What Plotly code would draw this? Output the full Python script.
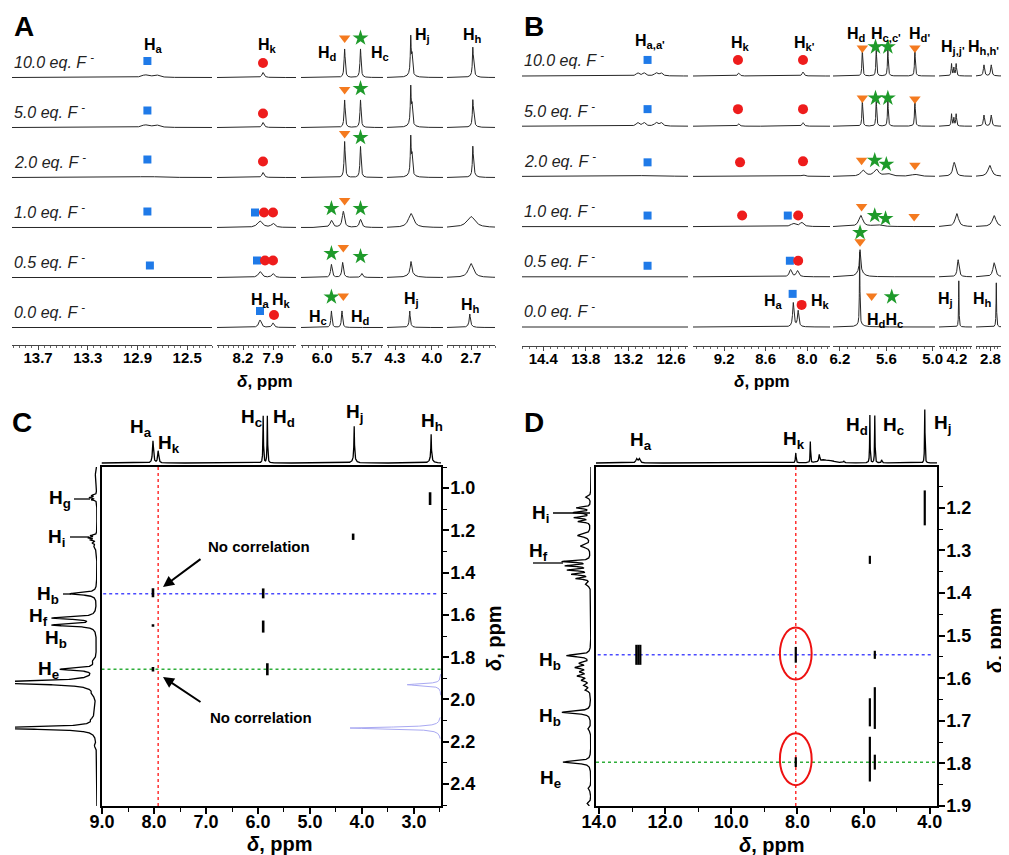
import numpy as np
import plotly.graph_objects as go

# ======================= DATA =======================
ROW_LABELS = ["0.0 eq. F", "0.5 eq. F", "1.0 eq. F", "2.0 eq. F", "5.0 eq. F", "10.0 eq. F"]

# ---- Panel A: ppm windows of the broken x axis and their tick labels
A_SEG_RANGES = [(13.91, 12.30), (8.46, 7.67), (6.16, 5.54), (4.365, 3.91), (2.90, 2.50)]
A_SEG_TICKS = [[13.7, 13.3, 12.9, 12.5], [8.2, 7.9], [6.0, 5.7], [4.3, 4.0], [2.7]]
# peaks: (shift / ppm, height in row units, half width / ppm)
A_PEAKS_0 = [(8.03, 0.15, 0.015), (7.90, 0.09, 0.012), (5.93, 0.33, 0.005), (5.85, 0.33, 0.005),
             (4.18, 0.26, 0.004), (4.18, 0.07, 0.012), (2.71, 0.20, 0.005), (2.71, 0.07, 0.015)]
A_PEAKS_05 = [(8.03, 0.12, 0.02), (7.90, 0.08, 0.015), (5.93, 0.26, 0.007), (5.845, 0.30, 0.007),
              (5.70, 0.08, 0.008), (4.17, 0.24, 0.007), (4.17, 0.08, 0.03), (2.70, 0.28, 0.025)]
A_PEAKS_1 = [(12.82, 0.015, 0.15), (8.03, 0.13, 0.03), (7.90, 0.08, 0.02), (5.93, 0.14, 0.012),
             (5.84, 0.32, 0.01), (5.71, 0.16, 0.01), (4.17, 0.28, 0.025), (2.70, 0.22, 0.04)]
A_PEAKS_2 = [(12.82, 0.02, 0.1), (8.00, 0.10, 0.012), (5.83, 0.72, 0.005), (5.71, 0.62, 0.005),
             (4.172, 0.72, 0.004), (4.162, 0.35, 0.004), (4.17, 0.08, 0.025),
             (2.685, 0.52, 0.004), (2.678, 0.2, 0.004), (2.68, 0.06, 0.02)]
A_PEAKS_5 = [(12.84, 0.05, 0.03), (12.75, 0.05, 0.03), (8.00, 0.10, 0.012), (5.83, 0.55, 0.005),
             (5.71, 0.55, 0.005), (4.172, 0.72, 0.004), (4.162, 0.35, 0.004), (4.17, 0.08, 0.025),
             (2.685, 0.45, 0.004), (2.678, 0.2, 0.004), (2.68, 0.06, 0.02)]
A_PEAKS_10 = [(12.84, 0.05, 0.03), (12.75, 0.05, 0.03), (8.00, 0.10, 0.012), (5.83, 0.57, 0.005),
              (5.71, 0.57, 0.005), (4.172, 0.72, 0.004), (4.162, 0.35, 0.004), (4.17, 0.08, 0.025),
              (2.685, 0.50, 0.004), (2.678, 0.2, 0.004), (2.68, 0.06, 0.02)]
# markers: (shift / ppm, row index, height above that row's baseline)
A_SQUARES = [(12.82, 5, 0.33), (12.82, 4, 0.34), (12.82, 3, 0.36), (12.82, 2, 0.32), (8.08, 2, 0.30),
             (12.80, 1, 0.24), (8.06, 1, 0.34), (8.03, 0, 0.33)]
A_CIRCLES = [(8.00, 5, 0.29), (8.00, 4, 0.28), (8.00, 3, 0.32), (7.99, 2, 0.30), (7.90, 2, 0.30),
             (7.98, 1, 0.34), (7.90, 1, 0.34), (7.89, 0, 0.25)]
A_TRIANGLES = [(5.83, 5, 0.79), (5.83, 4, 0.76), (5.83, 3, 0.88), (5.83, 2, 0.54), (5.84, 1, 0.60),
               (5.84, 0, 0.63)]
A_STARS = [(5.71, 5, 0.79), (5.71, 4, 0.78), (5.71, 3, 0.80), (5.93, 2, 0.38), (5.71, 2, 0.38),
           (5.93, 1, 0.48), (5.71, 1, 0.42), (5.93, 0, 0.61)]

# ---- Panel B
B_SEG_RANGES = [(14.70, 12.36), (9.65, 7.67), (6.29, 4.97), (4.47, 3.97), (3.00, 2.60)]
B_SEG_TICKS = [[14.4, 13.8, 13.2, 12.6], [9.2, 8.6, 8.0], [6.2, 5.6, 5.0], [4.2], [2.8]]
B_PEAKS_0 = [(8.20, 0.48, 0.012), (8.13, 0.32, 0.012), (5.945, 1.45, 0.004), (5.94, 0.05, 0.05),
             (4.17, 0.92, 0.004), (2.72, 0.88, 0.004)]
B_PEAKS_05 = [(8.24, 0.14, 0.02), (8.14, 0.12, 0.02), (5.94, 0.40, 0.008), (5.94, 0.14, 0.04),
              (4.18, 0.34, 0.015), (2.75, 0.28, 0.02)]
B_PEAKS_1 = [(8.20, 0.06, 0.04), (8.08, 0.08, 0.03), (5.93, 0.22, 0.03), (5.72, 0.04, 0.06),
             (4.20, 0.26, 0.03), (2.75, 0.22, 0.03)]
B_PEAKS_2 = [(12.90, 0.02, 0.2), (8.99, 0.015, 0.05), (8.06, 0.03, 0.03), (5.90, 0.12, 0.035),
             (5.73, 0.14, 0.035), (5.58, 0.05, 0.05), (5.23, 0.04, 0.05), (4.24, 0.28, 0.025),
             (2.81, 0.22, 0.03)]
B_PEAKS_5 = [(13.07, 0.07, 0.025), (12.98, 0.07, 0.025), (12.81, 0.07, 0.025), (12.74, 0.07, 0.025),
             (8.99, 0.05, 0.015), (8.06, 0.07, 0.015), (5.91, 0.54, 0.006), (5.73, 0.54, 0.006),
             (5.58, 0.54, 0.006), (5.23, 0.54, 0.006), (4.28, 0.24, 0.007), (4.245, 0.16, 0.007),
             (4.21, 0.24, 0.007), (2.89, 0.22, 0.01), (2.79, 0.22, 0.01)]
B_PEAKS_10 = [(13.07, 0.06, 0.025), (12.98, 0.06, 0.025), (12.81, 0.06, 0.025), (12.74, 0.06, 0.025),
              (8.99, 0.06, 0.015), (8.06, 0.08, 0.015), (5.91, 0.54, 0.006), (5.73, 0.54, 0.006),
              (5.58, 0.54, 0.006), (5.23, 0.54, 0.006), (4.28, 0.24, 0.007), (4.245, 0.16, 0.007),
              (4.21, 0.24, 0.007), (2.89, 0.22, 0.01), (2.79, 0.22, 0.01)]
B_SQUARES = [(12.93, 5, 0.32), (12.93, 4, 0.34), (12.93, 3, 0.28), (12.93, 2, 0.22), (8.28, 2, 0.22),
             (12.93, 1, 0.22), (8.25, 1, 0.32), (8.21, 0, 0.66)]
B_CIRCLES = [(9.00, 5, 0.32), (8.06, 5, 0.32), (9.00, 4, 0.34), (8.06, 4, 0.34), (8.97, 3, 0.28),
             (8.06, 3, 0.30), (8.94, 2, 0.22), (8.13, 2, 0.22), (8.13, 1, 0.32), (8.08, 0, 0.44)]
B_TRIANGLES = [(5.91, 5, 0.56), (5.23, 5, 0.56), (5.91, 4, 0.56), (5.23, 4, 0.54), (5.92, 3, 0.32),
               (5.23, 3, 0.22), (5.92, 2, 0.40), (5.24, 2, 0.20), (5.94, 1, 0.70), (5.79, 0, 0.62)]
B_STARS = [(5.74, 5, 0.58), (5.58, 5, 0.58), (5.74, 4, 0.56), (5.58, 4, 0.56), (5.75, 3, 0.32),
           (5.60, 3, 0.24), (5.75, 2, 0.22), (5.61, 2, 0.16), (5.94, 1, 0.88), (5.53, 0, 0.60)]

# ---- Panel C (2D, projections)
C_X_RANGE = (9.01, 2.48)
C_Y_RANGE = (2.504, 0.90)
C_XTICKS = [9.0, 8.0, 7.0, 6.0, 5.0, 4.0, 3.0]
C_YTICKS = [1.0, 1.2, 1.4, 1.6, 1.8, 2.0, 2.2, 2.4]
C_TOP_PEAKS = [(8.02, 22, 0.012), (7.92, 12, 0.012), (5.90, 47, 0.006), (5.82, 47, 0.006),
               (4.15, 32, 0.006), (4.15, 5, 0.03), (2.67, 24, 0.006), (2.67, 5, 0.03)]
C_LEFT_PEAKS = [(0.95, 2, 0.03), (1.035, 5, 0.003), (1.045, 7, 0.003), (1.055, 5, 0.003),
                (1.225, 6, 0.003), (1.235, 8, 0.003), (1.245, 6, 0.003), (1.26, 4, 0.004),
                (1.28, 3, 0.01), (1.50, 27, 0.006), (1.615, 44, 0.006), (1.648, 44, 0.006),
                (1.82, 3, 0.01), (1.857, 35, 0.006), (1.92, 120, 0.008), (1.975, 3, 0.01),
                (2.06, 2, 0.02), (2.095, 3, 0.01), (2.135, 120, 0.006), (2.22, 2, 0.008)]
C_GHOST = [(1.93, 0.65, 0.005), (2.135, 1.75, 0.005)]
C_CROSS_X = [8.02, 8.02, 8.02, 5.90, 5.90, 5.82, 4.17, 2.69]
C_CROSS_Y = [1.495, 1.65, 1.857, 1.498, 1.655, 1.857, 1.23, 1.05]
C_CROSS_DY = [0.043, 0.012, 0.022, 0.047, 0.057, 0.057, 0.03, 0.06]
C_HK_X = 7.92
C_HB_Y = 1.50
C_HE_Y = 1.857

# ---- Panel D
D_X_RANGE = (14.09, 3.78)
D_Y_RANGE = (1.90, 1.104)
D_XTICKS = [14.0, 12.0, 10.0, 8.0, 6.0, 4.0]
D_YTICKS = [1.2, 1.3, 1.4, 1.5, 1.6, 1.7, 1.8, 1.9]
D_TOP_PEAKS = [(12.86, 4, 0.03), (12.78, 4, 0.03), (8.05, 10, 0.012), (7.61, 21, 0.008),
               (7.34, 7, 0.015), (7.20, 3, 0.15), (6.95, 1.5, 0.1), (6.60, 1.5, 0.02),
               (5.81, 48, 0.008), (5.66, 48, 0.008), (5.45, 3, 0.015), (4.15, 54, 0.008)]
D_LEFT_PEAKS = [(1.175, 5, 0.003), (1.200, 14, 0.002), (1.211, 17, 0.002), (1.223, 16, 0.002),
                (1.232, 12, 0.002), (1.265, 13, 0.004), (1.29, 10, 0.004), (1.326, 28, 0.002),
                (1.336, 24, 0.002), (1.346, 22, 0.002), (1.356, 18, 0.002), (1.366, 14, 0.002),
                (1.38, 5, 0.004), (1.547, 24, 0.003), (1.565, 10, 0.003), (1.575, 14, 0.003),
                (1.585, 9, 0.003), (1.595, 12, 0.003), (1.605, 8, 0.003), (1.617, 6, 0.003),
                (1.628, 5, 0.003), (1.68, 29, 0.003), (1.72, 3, 0.004), (1.797, 28, 0.003),
                (1.86, 3, 0.004), (1.895, 4, 0.004)]
D_CROSS_X = [4.15, 5.81, 12.87, 12.81, 12.75, 8.05, 5.66, 5.81, 5.66, 8.05, 5.81, 5.66]
D_CROSS_Y = [1.20, 1.322, 1.545, 1.545, 1.545, 1.545, 1.545, 1.68, 1.67, 1.797, 1.79, 1.797]
D_CROSS_DY = [0.082, 0.019, 0.047, 0.047, 0.047, 0.037, 0.019, 0.066, 0.098, 0.023, 0.105, 0.035]
D_HK_X = 8.05
D_HB_Y = 1.545
D_HE_Y = 1.797
D_CIRCLED_Y = [1.542, 1.79]

# ======================= DRAWING =======================
OFF = 8  # the page body has an 8 px margin; the figure is sized to fit the window
FIG_W, FIG_H = 1009 - OFF, 855 - OFF
FONT = "Liberation Sans, Arial, sans-serif"
INK = "#262626"


def fx(p):
    return (p - OFF) / FIG_W


def fy(p):
    return 1 - (p - OFF) / FIG_H


def xa(k):
    return "xaxis" if k == 1 else f"xaxis{k}"


def xr(k):
    return "x" if k == 1 else f"x{k}"


def ya(k):
    return "yaxis" if k == 1 else f"yaxis{k}"


def yr(k):
    return "y" if k == 1 else f"y{k}"


def lorentz(x, peaks):
    y = np.zeros_like(x, dtype=float)
    for c, h, w in peaks:
        y += h * w * w / ((x - c) ** 2 + w * w)
    return y


fig = go.Figure()
layout = dict(width=FIG_W, height=FIG_H, margin=dict(l=0, r=0, t=0, b=0),
              paper_bgcolor="white", plot_bgcolor="white", showlegend=False,
              hovermode=False, font=dict(family=FONT, color="black"))
annotations = []
shapes = []


def ann(text, x, y, size, **kw):
    d = dict(text=text, x=fx(x), y=fy(y), xref="paper", yref="paper", showarrow=False,
             font=dict(family=FONT, size=size, color="black"), xanchor="center", yanchor="middle")
    d.update(kw)
    annotations.append(d)


MARK_STYLES = [("square", "#1f7ae8", 8), ("circle", "#ee1c1c", 10),
               ("triangle-down", "#f47a1f", 10), ("star", "#1e9a2a", 12)]


def stacked_panel(seg_ranges, seg_ticks, seg_px, first_k, yk, axis_px, top_px, base_px, unit,
                  rows, marks, minor_dt):
    for s, (rng, ticks, (a, b)) in enumerate(zip(seg_ranges, seg_ticks, seg_px)):
        k = first_k + s
        layout[xa(k)] = dict(domain=[fx(a), fx(b)], range=list(rng), anchor="free",
                             position=fy(axis_px), showgrid=False, zeroline=False, showline=True,
                             linecolor="#444", linewidth=1, ticks="outside", ticklen=4, tickwidth=1,
                             tickcolor="#444", tickmode="array", tickvals=ticks,
                             ticktext=[f"{t:.1f}" for t in ticks], ticklabelstandoff=-5,
                             tickfont=dict(family=FONT, size=15, weight="bold", color="black"),
                             minor=dict(ticks="outside", ticklen=2, tickmode="linear", tick0=0,
                                        dtick=minor_dt[s], tickcolor="#666", showgrid=False),
                             automargin=False, fixedrange=True)
        lo, hi = min(rng), max(rng)
        xs = np.linspace(hi, lo, 2200)
        for r, peaks in enumerate(rows):
            fig.add_trace(go.Scatter(x=xs, y=r + lorentz(xs, peaks), mode="lines",
                                     line=dict(color=INK, width=1), xaxis=xr(k), yaxis=yr(yk),
                                     hoverinfo="skip"))
        for (sym, col, size), pts in zip(MARK_STYLES, marks):
            sel = [p for p in pts if lo <= p[0] <= hi]
            if sel:
                fig.add_trace(go.Scatter(x=[p[0] for p in sel], y=[p[1] + p[2] for p in sel],
                                         mode="markers", marker=dict(symbol=sym, color=col, size=size,
                                                                     line=dict(width=0)),
                                         xaxis=xr(k), yaxis=yr(yk), hoverinfo="skip"))
    layout[ya(yk)] = dict(domain=[fy(axis_px), fy(top_px)],
                          range=[-(axis_px - base_px) / unit, (base_px - top_px) / unit],
                          visible=False, anchor=xr(first_k), fixedrange=True)
    for r, lab in enumerate(ROW_LABELS):
        annotations.append(dict(text=f"<i>{lab} <sup>-</sup></i>", x=fx(seg_px[0][0]), y=r + 0.33,
                                xref="paper", yref=yr(yk), showarrow=False, xanchor="left",
                                yanchor="middle", font=dict(family=FONT, size=16, color="#222")))


# ---------- Panel A
stacked_panel(A_SEG_RANGES, A_SEG_TICKS, [(12, 212), (217, 296), (301, 383), (387, 443), (447, 495)],
              1, 1, 345, 20, 327.5, 50.0,
              [A_PEAKS_0, A_PEAKS_05, A_PEAKS_1, A_PEAKS_2, A_PEAKS_5, A_PEAKS_10],
              [A_SQUARES, A_CIRCLES, A_TRIANGLES, A_STARS], [0.05, 0.05, 0.05, 0.05, 0.05])
# ---------- Panel B
stacked_panel(B_SEG_RANGES, B_SEG_TICKS, [(522, 688), (693, 830), (833, 935), (939, 972), (976, 1005)],
              6, 2, 346, 20, 327.0, 50.2,
              [B_PEAKS_0, B_PEAKS_05, B_PEAKS_1, B_PEAKS_2, B_PEAKS_5, B_PEAKS_10],
              [B_SQUARES, B_CIRCLES, B_TRIANGLES, B_STARS], [0.1, 0.1, 0.1, 0.05, 0.05])


# ---------- 2D panels
def panel_2d(kx, kl, ky, kt, xrange_, yrange_, box, xticks, yticks, x_minor, y_minor,
             top_peaks, left_peaks, left_px, cross, hk_x, hb_y, he_y):
    x0p, x1p, ytp, ybp = box
    common = dict(showgrid=False, zeroline=False, showline=True, linecolor="black", linewidth=1.5,
                  mirror=True, ticks="outside", ticklen=6, tickwidth=1.5, tickcolor="black",
                  tickmode="array", automargin=False, fixedrange=True,
                  tickfont=dict(family=FONT, size=18, weight="bold", color="black"))
    layout[xa(kx)] = dict(domain=[fx(x0p), fx(x1p)], range=list(xrange_), anchor=yr(ky),
                          tickvals=xticks, ticktext=[f"{t:.1f}" for t in xticks], ticklabelstandoff=-7,
                          minor=dict(ticks="outside", ticklen=4, tickmode="linear", tick0=0,
                                     dtick=x_minor, tickcolor="black", tickwidth=1), **common)
    layout[ya(ky)] = dict(domain=[fy(ybp), fy(ytp)], range=list(yrange_), anchor=xr(kx), side="right",
                          tickvals=yticks, ticktext=[f"{t:.1f}" for t in yticks], ticklabelstandoff=-2,
                          minor=dict(ticks="outside", ticklen=4, tickmode="linear", tick0=0,
                                     dtick=y_minor, tickcolor="black", tickwidth=1), **common)
    layout[ya(kt)] = dict(domain=[fy(466), fy(400)], range=[-3, 63], anchor=xr(kx), visible=False,
                          fixedrange=True)
    lx0, lx1 = left_px
    layout[xa(kl)] = dict(domain=[fx(lx0), fx(lx1)], range=[lx1 - lx0, 0], anchor=yr(ky),
                          visible=False, fixedrange=True)
    # top projection
    xs = np.linspace(max(xrange_), min(xrange_), 5000)
    fig.add_trace(go.Scatter(x=xs, y=lorentz(xs, top_peaks), mode="lines",
                             line=dict(color="black", width=1.3), xaxis=xr(kx), yaxis=yr(kt),
                             hoverinfo="skip"))
    # left projection
    ys = np.linspace(max(yrange_), min(yrange_), 5000)
    fig.add_trace(go.Scatter(x=lorentz(ys, left_peaks), y=ys, mode="lines",
                             line=dict(color="black", width=1.3), xaxis=xr(kl), yaxis=yr(ky),
                             hoverinfo="skip"))
    # guide lines
    shapes.append(dict(type="line", xref=xr(kx), yref=f"{yr(ky)} domain", x0=hk_x, x1=hk_x, y0=0, y1=1,
                       line=dict(color="#ff3030", width=1.5, dash="dot"), layer="below"))
    shapes.append(dict(type="line", xref=f"{xr(kx)} domain", yref=yr(ky), x0=0.005, x1=0.99, y0=hb_y,
                       y1=hb_y, line=dict(color="#4a4aff", width=1.5, dash="dot"), layer="below"))
    shapes.append(dict(type="line", xref=f"{xr(kx)} domain", yref=yr(ky), x0=0, x1=1, y0=he_y,
                       y1=he_y, line=dict(color="#2fae3a", width=1.5, dash="dot"), layer="below"))
    # cross peaks
    cx, cy, cdy, cw = cross
    px_, py_ = [], []
    for x, y, dy in zip(cx, cy, cdy):
        px_ += [x, x, None]
        py_ += [y - dy / 2, y + dy / 2, None]
    fig.add_trace(go.Scatter(x=px_, y=py_, mode="lines", line=dict(color="black", width=cw),
                             xaxis=xr(kx), yaxis=yr(ky), hoverinfo="skip", connectgaps=False))


panel_2d(11, 12, 3, 4, C_X_RANGE, C_Y_RANGE, (101.5, 441, 467, 806), C_XTICKS, C_YTICKS, 0.5, 0.1,
         C_TOP_PEAKS, C_LEFT_PEAKS, (15, 97), (C_CROSS_X, C_CROSS_Y, C_CROSS_DY, 2.6),
         C_HK_X, C_HB_Y, C_HE_Y)
panel_2d(13, 14, 5, 6, D_X_RANGE, D_Y_RANGE, (596, 937, 467, 806), D_XTICKS, D_YTICKS, 1.0, 0.05,
         D_TOP_PEAKS, D_LEFT_PEAKS, (520, 591), (D_CROSS_X, D_CROSS_Y, D_CROSS_DY, 2.2),
         D_HK_X, D_HB_Y, D_HE_Y)

# ghost (lavender) traces at the right edge of panel C
for yc, ext, w in C_GHOST:
    ys = np.linspace(yc - 0.05, yc + 0.05, 600)
    fig.add_trace(go.Scatter(x=min(C_X_RANGE) + lorentz(ys, [(yc, ext, w)]), y=ys, mode="lines",
                             line=dict(color="#a9a9f2", width=1), xaxis="x11", yaxis="y3",
                             hoverinfo="skip"))

# red ellipses in panel D
for yc in D_CIRCLED_Y:
    shapes.append(dict(type="circle", xref="x13", yref="y5", x0=D_HK_X + 0.48, x1=D_HK_X - 0.48,
                       y0=yc - 0.061, y1=yc + 0.061, line=dict(color="#ee1111", width=2)))

# ---------- text
for t, x, y in [("A", 24, 27), ("B", 534, 27), ("C", 22, 422), ("D", 534, 422)]:
    ann(f"<b>{t}</b>", x, y, 28)

H = lambda s: f"<b>H<sub>{s}</sub></b>"
for s, x, y in [("a", 153, 45), ("k", 267, 45), ("d", 327, 54), ("c", 380, 54), ("j", 422, 35),
                ("h", 472, 35), ("a", 260, 300), ("k", 281, 300), ("c", 318, 317), ("d", 360, 317),
                ("j", 411, 299), ("h", 470, 305)]:
    ann(H(s), x, y, 16)
for s, x, y in [("a,a'", 650, 42), ("k", 740, 44), ("k'", 804, 44), ("d", 856, 34), ("c,c'", 886, 34),
                ("d'", 919, 34), ("j,j'", 953, 47), ("a", 773, 302),
                ("k", 820, 302), ("j", 945, 299), ("h", 982, 299)]:
    ann(H(s), x, y, 16)
ann(H("h,h'"), 1001, 47, 16, xanchor="right")
ann("<b>H<sub>d</sub>H<sub>c</sub></b>", 885, 320, 16)

for s, x, y in [("a", 141, 428), ("k", 169, 444), ("c", 251, 418), ("d", 284, 418), ("j", 354, 413),
                ("h", 432, 422), ("g", 60, 499), ("i", 56, 538), ("b", 48, 595), ("f", 38, 617),
                ("b", 56, 639), ("e", 48, 670)]:
    ann(H(s), x, y, 19)
for s, x, y in [("a", 641, 441), ("k", 794, 440), ("d", 857, 426), ("c", 893, 426), ("j", 942, 424),
                ("i", 540, 514), ("f", 538, 552), ("b", 550, 661), ("b", 550, 717), ("e", 550, 779)]:
    ann(H(s), x, y, 19)

# leader lines of the side-projection labels
for x0, x1, y in [(74, 90, 499), (70, 89, 537), (63, 71, 594), (553, 590, 513), (533, 563, 563)]:
    shapes.append(dict(type="line", xref="paper", yref="paper", x0=fx(x0), x1=fx(x1), y0=fy(y), y1=fy(y),
                       line=dict(color="black", width=1.3)))

# "No correlation" callouts
ann("<b>No correlation</b>", 259, 546, 15)
ann("<b>No correlation</b>", 261, 717, 15)
for hx, hy, tx, ty in [(163, 587, 202, 558), (163, 677, 202, 703)]:
    annotations.append(dict(text="", x=fx(hx), y=fy(hy), xref="paper", yref="paper", showarrow=True,
                            ax=tx - hx, ay=ty - hy, arrowhead=2, arrowsize=1.1, arrowwidth=2,
                            arrowcolor="black"))

# axis titles
DELTA = "<b><i>δ</i>, ppm</b>"
ann(DELTA, 265, 382, 17)
ann(DELTA, 762, 381, 17)
ann(DELTA, 280, 844, 20)
ann(DELTA, 772, 845, 20)
ann(DELTA, 494, 638, 20, textangle=-90)
ann(DELTA, 995, 640, 20, textangle=-90)

layout["annotations"] = annotations
layout["shapes"] = shapes
fig.update_layout(**layout)
fig.write_html("out.html")
